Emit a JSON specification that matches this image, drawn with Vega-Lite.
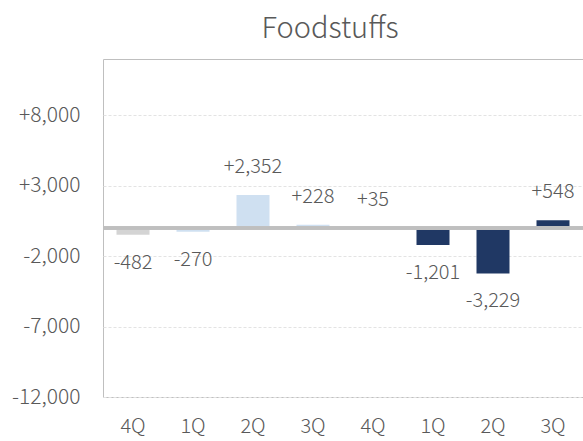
{
  "$schema": "https://vega.github.io/schema/vega-lite/v6.json",
  "autosize": {"type": "none"},
  "padding": {"left": 103, "top": 59, "right": 0, "bottom": 44},
  "width": 480,
  "height": 338,
  "config": {
    "locale": {"number": {"decimal": ".", "thousands": ",", "grouping": [3], "currency": ["$", ""], "minus": "-"}},
    "view": {"stroke": "#bfbfbf", "strokeWidth": 1},
    "font": "Noto Sans CJK JP"
  },
  "title": {
    "text": "Foodstuffs",
    "fontSize": 29,
    "fontWeight": 300,
    "color": "#595959",
    "font": "Noto Sans CJK JP",
    "anchor": "middle",
    "dx": -13,
    "offset": 15
  },
  "data": {
    "values": [
      {"period": "FY1 4Q", "value": -482, "group": "prior"},
      {"period": "FY2 1Q", "value": -270, "group": "year1"},
      {"period": "FY2 2Q", "value": 2352, "group": "year1"},
      {"period": "FY2 3Q", "value": 228, "group": "year1"},
      {"period": "FY2 4Q", "value": 35, "group": "year2"},
      {"period": "FY3 1Q", "value": -1201, "group": "year2"},
      {"period": "FY3 2Q", "value": -3229, "group": "year2"},
      {"period": "FY3 3Q", "value": 548, "group": "year2"}
    ]
  },
  "encoding": {
    "x": {
      "field": "period",
      "type": "nominal",
      "sort": null,
      "scale": {"paddingInner": 0.45, "paddingOuter": 0.225},
      "axis": {
        "title": null,
        "labelExpr": "slice(datum.label, -2)",
        "labelAngle": 0,
        "labelFontSize": 20,
        "labelFontWeight": 300,
        "labelColor": "#595959",
        "labelPadding": 19,
        "ticks": false,
        "domain": false
      }
    },
    "y": {
      "field": "value",
      "type": "quantitative",
      "scale": {"domain": [-12000, 12000], "nice": false},
      "axis": {
        "title": null,
        "values": [-12000, -7000, -2000, 3000, 8000],
        "labelExpr": "(datum.value > 0 ? '+' : '') + format(datum.value, ',')",
        "labelFontSize": 21,
        "labelFontWeight": 300,
        "labelColor": "#595959",
        "labelPadding": 23,
        "ticks": false,
        "domain": false,
        "gridColor": "#e3e3e3",
        "gridDash": [3, 2],
        "gridWidth": 1
      }
    }
  },
  "layer": [
    {
      "mark": {"type": "bar"},
      "encoding": {
        "color": {
          "field": "group",
          "type": "nominal",
          "scale": {"domain": ["prior", "year1", "year2"], "range": ["#d4d4d4", "#cfe0f1", "#203864"]},
          "legend": null
        }
      }
    },
    {
      "mark": {"type": "rule", "color": "#bfbfbf", "strokeWidth": 3},
      "encoding": {"y": {"datum": 0}, "x": {"value": 0}, "x2": {"value": 480}}
    },
    {
      "transform": [{"filter": "datum.value > 0"}],
      "mark": {"type": "text", "dy": -28, "fontSize": 20, "fontWeight": 300, "color": "#595959", "baseline": "middle"},
      "encoding": {"text": {"field": "value", "type": "quantitative", "format": "+,"}}
    },
    {
      "transform": [{"filter": "datum.value < 0"}],
      "mark": {"type": "text", "dy": 28, "fontSize": 20, "fontWeight": 300, "color": "#595959", "baseline": "middle"},
      "encoding": {"text": {"field": "value", "type": "quantitative", "format": "+,"}}
    }
  ]
}
